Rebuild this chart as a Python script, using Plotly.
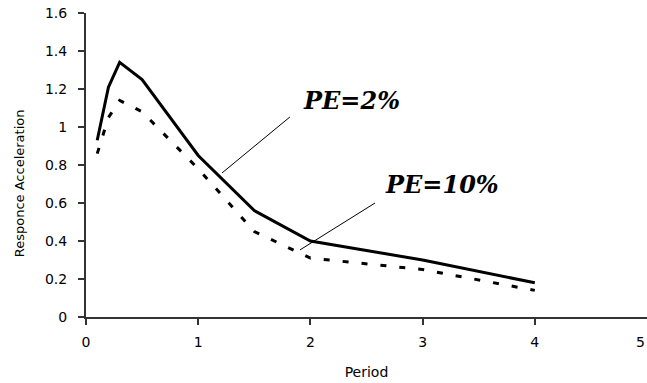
import plotly.graph_objects as go

period = [0.1, 0.2, 0.3, 0.5, 1.0, 1.5, 2.0, 3.0, 4.0]
pe2 = [0.93, 1.21, 1.34, 1.25, 0.85, 0.56, 0.40, 0.30, 0.18]
pe10 = [0.86, 1.05, 1.14, 1.08, 0.78, 0.45, 0.31, 0.25, 0.14]

x_ticks = [0, 1, 2, 3, 4, 5]
x_labels = ["0", "1", "2", "3", "4", "5"]
y_ticks = [0, 0.2, 0.4, 0.6, 0.8, 1, 1.2, 1.4, 1.6]
y_labels = ["0", "0.2", "0.4", "0.6", "0.8", "1", "1.2", "1.4", "1.6"]

labels = ["PE=2%", "PE=10%"]
label_pos = [(2.37, 1.142), (3.17, 0.695)]
leader_from = [(1.818, 1.053), (2.576, 0.60)]
leader_to = [(1.212, 0.758), (1.907, 0.353)]

fig = go.Figure()
fig.add_trace(go.Scatter(x=period, y=pe2, mode="lines",
                         line=dict(color="black", width=3), showlegend=False))
fig.add_trace(go.Scatter(x=period, y=pe10, mode="lines",
                         line=dict(color="black", width=3, dash="6px,13px"),
                         showlegend=False))

for (x0, y0), (x1, y1) in zip(leader_from, leader_to):
    fig.add_shape(type="line", x0=x0, y0=y0, x1=x1, y1=y1, xref="x", yref="y",
                  line=dict(color="black", width=1))

for txt, (tx, ty) in zip(labels, label_pos):
    fig.add_annotation(x=tx, y=ty, text=txt, showarrow=False, xref="x", yref="y",
                       font=dict(family="DejaVu Serif", size=24, color="black",
                                 weight="bold", style="italic"))

axis_font = dict(family="DejaVu Sans", size=14, color="black")

# last x tick label sits at the window edge
fig.add_annotation(x=x_ticks[-1], y=0, xref="x", yref="paper", text=x_labels[-1],
                   showarrow=False, xanchor="right", yanchor="middle", yshift=-25,
                   font=axis_font)

fig.add_annotation(x=0, y=0.44, xref="paper", yref="paper", text="Responce Acceleration",
                   textangle=-90, showarrow=False, xanchor="center", yanchor="middle",
                   xshift=-67,
                   font=dict(family="DejaVu Sans", size=13, color="black"))

fig.update_xaxes(range=[0, 5], tickvals=x_ticks[:-1], ticktext=x_labels[:-1],
                 ticks="outside", ticklen=6,
                 tickwidth=2, tickcolor="#333", showline=True, linewidth=2,
                 linecolor="#333", showgrid=False, zeroline=False,
                 tickfont=axis_font, ticklabelstandoff=5,
                 title=dict(text="Period", font=dict(family="DejaVu Sans", size=14, color="black"),
                            standoff=18))
fig.update_yaxes(range=[0, 1.6], tickvals=y_ticks, ticktext=y_labels, ticks="outside",
                 ticklen=6, tickwidth=2, tickcolor="#333", showline=True, linewidth=2,
                 linecolor="#333", showgrid=False, zeroline=False,
                 tickfont=axis_font, ticklabelstandoff=8)
fig.update_layout(width=647, height=383, margin=dict(l=86, r=0, t=13, b=66),
                  plot_bgcolor="white", paper_bgcolor="white")
fig.write_html("out.html")
